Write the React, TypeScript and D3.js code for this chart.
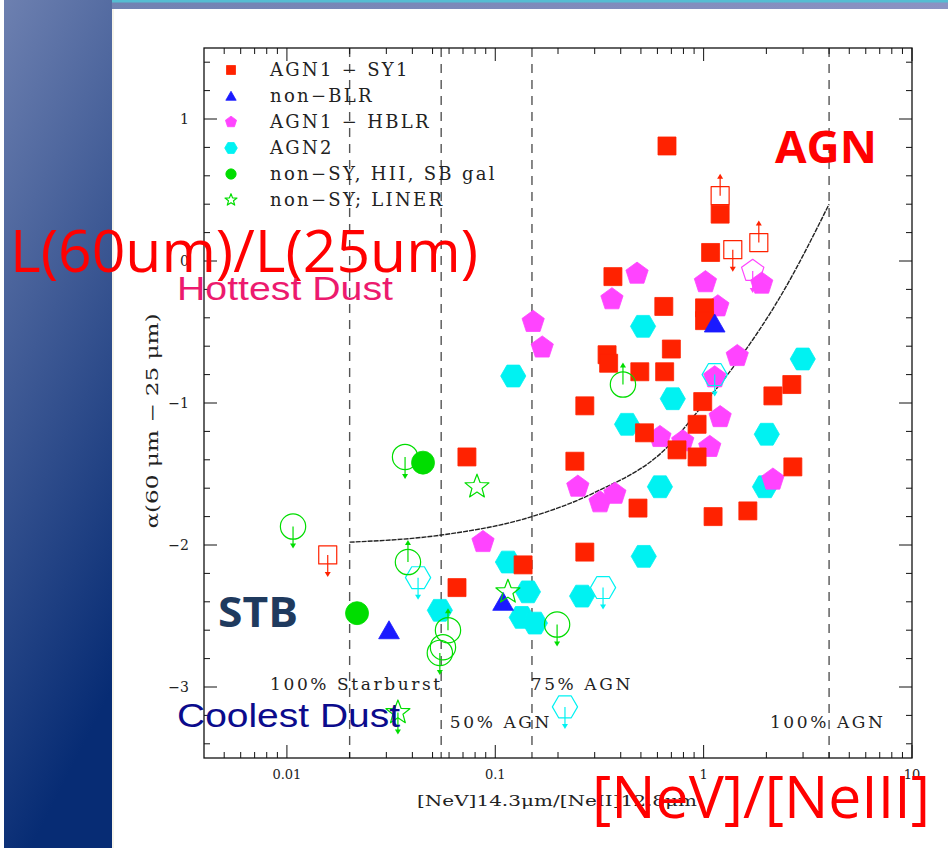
import React from "react";
import * as d3 from "d3";

type Pt = [number, number];
type Lim = { x: number; y: number; dir: "up" | "down" | null };

// AGN1 - SY1 (filled) and limits (open)
const sy1: Pt[] = [
  [0.667, 0.81], [1.2, 0.33], [1.08, 0.06], [0.367, -0.11], [0.644, -0.32],
  [1.01, -0.33], [1.01, -0.42], [0.7, -0.62], [0.344, -0.66], [0.35, -0.72],
  [0.494, -0.78], [0.65, -0.78], [0.269, -1.02], [0.99, -0.99], [2.15, -0.95],
  [2.65, -0.87], [0.52, -1.21], [0.93, -1.15], [0.745, -1.33], [0.93, -1.38],
  [0.241, -1.41], [2.68, -1.45], [0.484, -1.74], [1.11, -1.8], [1.63, -1.76],
  [0.269, -2.05], [0.0731, -1.38], [0.136, -2.14], [0.0655, -2.3],
];
const sy1Limits: Lim[] = [
  { x: 1.2, y: 0.46, dir: "up" },
  { x: 1.38, y: 0.08, dir: "down" },
  { x: 1.84, y: 0.13, dir: "up" },
  { x: 0.0157, y: -2.07, dir: "down" },
];

// non-BLR
const nonBlr: Pt[] = [[1.13, -0.44], [0.0309, -2.6], [0.109, -2.4]];

// AGN1 - HBLR
const hblr: Pt[] = [
  [0.479, -0.09], [0.363, -0.27], [0.152, -0.43], [0.168, -0.61], [1.02, -0.15],
  [1.17, -0.32], [1.9, -0.16], [1.45, -0.67], [1.13, -0.82], [1.2, -1.1],
  [1.07, -1.31], [0.794, -1.27], [0.617, -1.24], [0.249, -1.59], [0.318, -1.7],
  [0.375, -1.64], [2.15, -1.54], [0.0873, -1.98],
];
const hblrLimits: Lim[] = [{ x: 1.72, y: -0.07, dir: "down" }];

// AGN2
const agn2: Pt[] = [
  [0.512, -0.46], [2.99, -0.69], [0.122, -0.81], [0.711, -0.97], [0.429, -1.15],
  [2.01, -1.22], [0.617, -1.59], [1.97, -1.59], [0.516, -2.08], [0.261, -2.36],
  [0.115, -2.12], [0.0542, -2.46], [0.1435, -2.33], [0.134, -2.51], [0.155, -2.55],
];
const agn2Limits: Lim[] = [
  { x: 0.0426, y: -2.23, dir: "down" },
  { x: 0.329, y: -2.3, dir: "down" },
  { x: 0.216, y: -3.14, dir: "down" },
  { x: 1.13, y: -0.8, dir: "down" },
];

// non-SY, HII, SB gal
const hii: Pt[] = [[0.045, -1.42], [0.0217, -2.48]];
const hiiLimits: Lim[] = [
  { x: 0.0369, y: -1.38, dir: "down" },
  { x: 0.0107, y: -1.87, dir: "down" },
  { x: 0.0381, y: -2.12, dir: "up" },
  { x: 0.0593, y: -2.6, dir: "up" },
  { x: 0.0561, y: -2.72, dir: null },
  { x: 0.0542, y: -2.76, dir: "down" },
  { x: 0.41, y: -0.87, dir: "up" },
  { x: 0.198, y: -2.56, dir: "down" },
];

// non-SY; LINER
const liner: Pt[] = [[0.0817, -1.59], [0.115, -2.33]];
const linerLimits: Lim[] = [{ x: 0.0341, y: -3.18, dir: "down" }];

// Mixing curve between pure starburst and pure AGN
const mixCurve: Pt[] = [
  [0.02, -1.98], [0.055, -1.93], [0.15, -1.8], [0.3, -1.63], [0.67, -1.31],
  [0.96, -1.04], [1.35, -0.77], [2.4, -0.22], [4, 0.4],
];

// Boundaries of AGN fraction zones
const zoneLines = [0.02, 0.055, 0.15, 4];
const zoneLabels = [
  { x: 0.0083, y: -3.02, text: "100% Starburst" },
  { x: 0.148, y: -3.02, text: "75% AGN" },
  { x: 0.0605, y: -3.29, text: "50% AGN" },
  { x: 2.08, y: -3.29, text: "100% AGN" },
];

const xMajor = [0.01, 0.1, 1, 10];
const xMajorLabels = ["0.01", "0.1", "1", "10"];
const yMajor = [-3, -2, -1, 0, 1];
const yMajorLabels = ["\u22123", "\u22122", "\u22121", "0", "1"];

const legendItems = [
  { kind: "square", color: "#ff2200", label: "AGN1 \u2212 SY1" },
  { kind: "triangle", color: "#1a1aff", label: "non\u2212BLR" },
  { kind: "pentagon", color: "#ff44ff", label: "AGN1 \u2212 HBLR" },
  { kind: "hexagon", color: "#00f2f2", label: "AGN2" },
  { kind: "circle", color: "#00dd00", label: "non\u2212SY, HII, SB gal" },
  { kind: "star", color: "#00dd00", label: "non\u2212SY; LINER" },
];

const W = 948;
const H = 848;
const plot = { left: 204, right: 912, top: 48, bottom: 758 };

const x = d3.scaleLog().domain([0.004, 10]).range([plot.left, plot.right]);
const y = d3.scaleLinear().domain([-3.5, 1.5]).range([plot.bottom, plot.top]);

function polygon(n: number, r: number, rot: number): string {
  const pts: Pt[] = d3.range(n).map((i) => {
    const a = rot + (i * 2 * Math.PI) / n;
    return [r * Math.cos(a), r * Math.sin(a)];
  });
  return (d3.line()(pts) as string) + "Z";
}

function starPath(r: number): string {
  const pts: Pt[] = d3.range(10).map((i) => {
    const a = -Math.PI / 2 + (i * Math.PI) / 5;
    const rr = i % 2 === 0 ? r : r * 0.42;
    return [rr * Math.cos(a), rr * Math.sin(a)];
  });
  return (d3.line()(pts) as string) + "Z";
}

function shape(kind: string, s: number): string {
  switch (kind) {
    case "square":
      return `M${-s},${-s}H${s}V${s}H${-s}Z`;
    case "triangle":
      return `M0,${-s * 1.05}L${s * 1.15},${s * 0.95}L${-s * 1.15},${s * 0.95}Z`;
    case "pentagon":
      return polygon(5, s * 1.3, -Math.PI / 2);
    case "hexagon":
      return polygon(6, s * 1.4, 0);
    case "circle":
      return d3.arc()({ innerRadius: 0, outerRadius: s * 1.15, startAngle: 0, endAngle: 2 * Math.PI }) as string;
    case "star":
      return starPath(s * 1.4);
    default:
      return "";
  }
}

function Marker({ kind, color, cx, cy, s, open, dir }: {
  kind: string; color: string; cx: number; cy: number; s: number; open?: boolean; dir?: "up" | "down" | null;
}) {
  const len = 22;
  const sign = dir === "up" ? -1 : 1;
  return (
    <g transform={`translate(${cx},${cy})`}>
      <path
        d={shape(kind, s)}
        fill={open ? "none" : color}
        stroke={color}
        strokeWidth={open ? 1.2 : 0.8}
        strokeLinejoin="round"
      />
      {dir ? (
        <g>
          <line x1={0} y1={0} x2={0} y2={sign * (len - 4)} stroke={color} strokeWidth={1.2} />
          <path d={`M-3,${sign * (len - 5)}L3,${sign * (len - 5)}L0,${sign * len}Z`} fill={color} />
        </g>
      ) : null}
    </g>
  );
}

export default function App() {
  const serif = "'DejaVu Serif', 'Liberation Serif', serif";
  const sans = "'Liberation Sans', Arial, sans-serif";
  const calibri = "'Open Sans', 'Liberation Sans', sans-serif";

  const xMinor: number[] = [];
  [0.001, 0.01, 0.1, 1].forEach((d) => {
    for (let k = 2; k <= 9; k++) {
      const v = d * k;
      if (v > 0.004 && v < 10) xMinor.push(v);
    }
  });
  const yMinor = d3.range(-3.4, 1.5, 0.2).filter((v) => Math.abs(v - Math.round(v)) > 0.01);

  const line = d3.line<Pt>().x((d) => x(d[0])).y((d) => y(d[1])).curve(d3.curveMonotoneX);

  const sq = 9;
  return (
    <svg width={W} height={H} style={{ position: "absolute", left: 0, top: 0, display: "block" }}>
      <defs>
        <linearGradient id="band" x1="0" y1="0" x2="0.25" y2="1">
          <stop offset="0" stopColor="#6d80b0" />
          <stop offset="0.45" stopColor="#3f5a95" />
          <stop offset="1" stopColor="#072c74" />
        </linearGradient>
        <linearGradient id="topband" x1="0" y1="0" x2="1" y2="0">
          <stop offset="0" stopColor="#6d80b0" />
          <stop offset="1" stopColor="#8b93c3" />
        </linearGradient>
      </defs>
      <rect x={0} y={0} width={W} height={H} fill="#ffffff" />
      {/* slide frame */}
      <rect x={4} y={0} width={W - 4} height={9} fill="url(#topband)" />
      <rect x={27} y={0} width={W - 27} height={2.5} fill="#55bdd2" />
      <rect x={4} y={0} width={108} height={H} fill="url(#band)" />
      <rect x={112} y={9} width={2} height={H - 9} fill="#f6f4ea" />

      {/* zone boundaries */}
      {zoneLines.map((v) => (
        <line key={v} x1={x(v)} x2={x(v)} y1={plot.top} y2={plot.bottom}
          stroke="#555" strokeWidth={1.4} strokeDasharray="9,7" />
      ))}

      {/* frame and ticks */}
      <rect x={plot.left} y={plot.top} width={plot.right - plot.left} height={plot.bottom - plot.top}
        fill="none" stroke="#111" strokeWidth={1.3} />
      {xMajor.map((v) => (
        <g key={"xm" + v}>
          <line x1={x(v)} x2={x(v)} y1={plot.bottom} y2={plot.bottom - 13} stroke="#111" />
          <line x1={x(v)} x2={x(v)} y1={plot.top} y2={plot.top + 13} stroke="#111" />
        </g>
      ))}
      {xMinor.map((v) => (
        <g key={"xn" + v}>
          <line x1={x(v)} x2={x(v)} y1={plot.bottom} y2={plot.bottom - 6} stroke="#111" />
          <line x1={x(v)} x2={x(v)} y1={plot.top} y2={plot.top + 6} stroke="#111" />
        </g>
      ))}
      {yMajor.map((v) => (
        <g key={"ym" + v}>
          <line x1={plot.left} x2={plot.left + 13} y1={y(v)} y2={y(v)} stroke="#111" />
          <line x1={plot.right} x2={plot.right - 13} y1={y(v)} y2={y(v)} stroke="#111" />
        </g>
      ))}
      {yMinor.map((v) => (
        <g key={"yn" + v.toFixed(1)}>
          <line x1={plot.left} x2={plot.left + 6} y1={y(v)} y2={y(v)} stroke="#111" />
          <line x1={plot.right} x2={plot.right - 6} y1={y(v)} y2={y(v)} stroke="#111" />
        </g>
      ))}
      {xMajor.map((v, i) => (
        <text key={"xl" + v} x={x(v)} y={plot.bottom + 21} textAnchor="middle"
          fontFamily={serif} fontSize={13} fill="#222">{xMajorLabels[i]}</text>
      ))}
      {yMajor.map((v, i) => (
        <text key={"yl" + v} x={plot.left - 15} y={y(v) + 5} textAnchor="end"
          fontFamily={serif} fontSize={14} fill="#222">{yMajorLabels[i]}</text>
      ))}
      <text x={417} y={806} fontFamily={serif} fontSize={15} fill="#222" textLength={280}
        lengthAdjust="spacingAndGlyphs">[NeV]14.3{"\u03bc"}m/[NeII]12.8{"\u03bc"}m</text>
      <text transform={`translate(158,${421}) rotate(-90)`} textAnchor="middle" fontFamily={serif}
        fontSize={16} fill="#222" textLength={215} lengthAdjust="spacingAndGlyphs">
        {"\u03b1"}(60 {"\u03bc"}m {"\u2212"} 25 {"\u03bc"}m)</text>

      {/* zone labels */}
      {zoneLabels.map((d) => (
        <text key={d.text} x={x(d.x)} y={y(d.y)} fontFamily={serif} fontSize={17} fill="#222"
          letterSpacing={2.6}>{d.text}</text>
      ))}

      {/* mixing curve */}
      <path d={line(mixCurve) as string} fill="none" stroke="#222" strokeWidth={1.4} strokeDasharray="5,1" />

      {/* data */}
      {agn2.map((d, i) => (
        <Marker key={"a2" + i} kind="hexagon" color="#00f2f2" cx={x(d[0])} cy={y(d[1])} s={sq} />
      ))}
      {hblr.map((d, i) => (
        <Marker key={"hb" + i} kind="pentagon" color="#ff44ff" cx={x(d[0])} cy={y(d[1])} s={sq} />
      ))}
      {hblrLimits.map((d, i) => (
        <Marker key={"hbl" + i} kind="pentagon" color="#ff44ff" cx={x(d.x)} cy={y(d.y)} s={sq} open dir={d.dir} />
      ))}
      {sy1.map((d, i) => (
        <Marker key={"s1" + i} kind="square" color="#ff2200" cx={x(d[0])} cy={y(d[1])} s={sq} />
      ))}
      {sy1Limits.map((d, i) => (
        <Marker key={"s1l" + i} kind="square" color="#ff2200" cx={x(d.x)} cy={y(d.y)} s={sq} open dir={d.dir} />
      ))}
      {agn2Limits.map((d, i) => (
        <Marker key={"a2l" + i} kind="hexagon" color="#00f2f2" cx={x(d.x)} cy={y(d.y)} s={sq} open dir={d.dir} />
      ))}
      {nonBlr.map((d, i) => (
        <Marker key={"nb" + i} kind="triangle" color="#1a1aff" cx={x(d[0])} cy={y(d[1])} s={sq} />
      ))}
      {hii.map((d, i) => (
        <Marker key={"h" + i} kind="circle" color="#00dd00" cx={x(d[0])} cy={y(d[1])} s={sq + 1} />
      ))}
      {hiiLimits.map((d, i) => (
        <Marker key={"hl" + i} kind="circle" color="#00dd00" cx={x(d.x)} cy={y(d.y)} s={sq + 2} open dir={d.dir} />
      ))}
      {liner.map((d, i) => (
        <Marker key={"li" + i} kind="star" color="#00dd00" cx={x(d[0])} cy={y(d[1])} s={sq} open />
      ))}
      {linerLimits.map((d, i) => (
        <Marker key={"lil" + i} kind="star" color="#00dd00" cx={x(d.x)} cy={y(d.y)} s={sq} open dir={d.dir} />
      ))}

      {/* legend */}
      {legendItems.map((d, i) => (
        <g key={d.label}>
          <Marker kind={d.kind} color={d.color} cx={231} cy={70 + i * 26} s={4.5} open={d.kind === "star"} />
          <text x={270} y={70 + i * 26 + 6} fontFamily={serif} fontSize={18} fill="#222"
            letterSpacing={2.3}>{d.label}</text>
        </g>
      ))}

      {/* slide annotations */}
      <text x={775} y={163} fontFamily={calibri} fontWeight={700} fontSize={44} fill="#ff0000"
        textLength={102} lengthAdjust="spacingAndGlyphs">AGN</text>
      <text x={10} y={272} fontFamily={calibri} fontSize={58} fill="#ff0000"
        textLength={468} lengthAdjust="spacingAndGlyphs">L(60um)/L(25um)</text>
      <text x={177} y={300} fontFamily={sans} fontSize={34} fill="#ec1a6e"
        textLength={216} lengthAdjust="spacingAndGlyphs">Hottest Dust</text>
      <text x={218} y={627} fontFamily={calibri} fontWeight={700} fontSize={42} fill="#1f3a5e"
        textLength={80} lengthAdjust="spacingAndGlyphs">STB</text>
      <text x={177} y={727} fontFamily={sans} fontSize={34} fill="#0b0b8c"
        textLength={223} lengthAdjust="spacingAndGlyphs">Coolest Dust</text>
      <text x={592} y={818} fontFamily={calibri} fontSize={58} fill="#ff0000"
        textLength={338} lengthAdjust="spacingAndGlyphs">[NeV]/[NeIII]</text>
    </svg>
  );
}
